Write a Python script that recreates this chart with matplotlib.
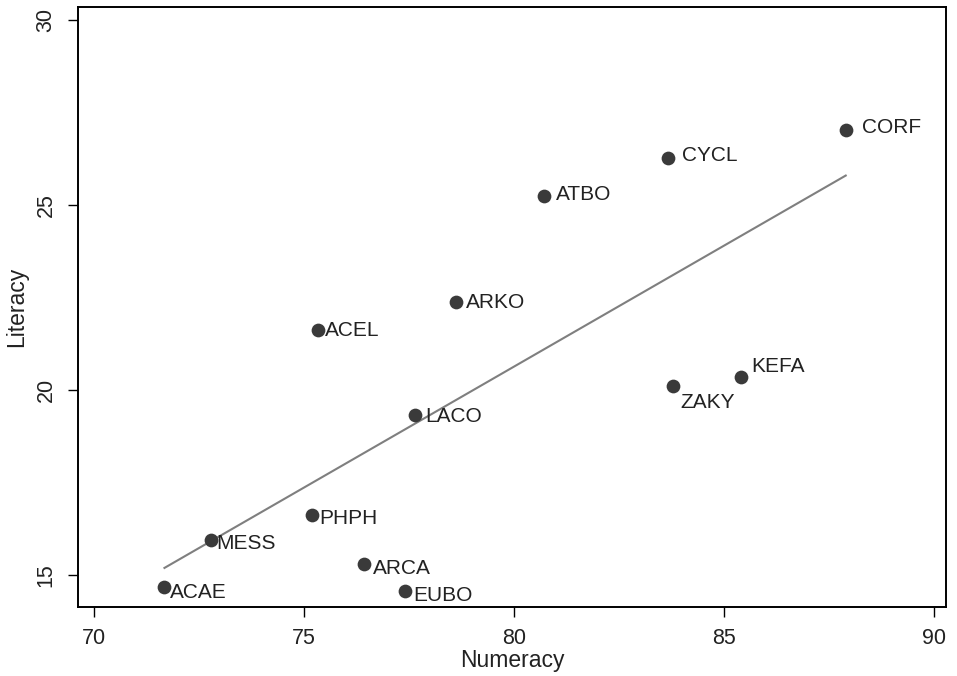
import matplotlib
matplotlib.use("Agg")
import matplotlib.pyplot as plt
import numpy as np

# Regions (labels) and their scores
regions = ["ACAE", "MESS", "PHPH", "ARCA", "EUBO", "LACO", "ACEL",
           "ARKO", "ATBO", "CYCL", "CORF", "ZAKY", "KEFA"]
numeracy = [71.67, 72.77, 75.19, 76.42, 77.41, 77.64, 75.32,
            78.61, 80.72, 83.67, 87.90, 83.79, 85.40]
literacy = [14.66, 15.95, 16.61, 15.29, 14.57, 19.33, 21.61,
            22.37, 25.24, 26.28, 27.03, 20.12, 20.35]

x_ticks = [70, 75, 80, 85, 90]
y_ticks = [15, 20, 25, 30]

# label offsets in pixels (dx, dy) from each point
label_offsets = {
    "ACAE": (5, -5), "MESS": (6, -4), "PHPH": (7, -3), "ARCA": (9, -4),
    "EUBO": (8, -5), "LACO": (10, -2), "ACEL": (7, 0), "ARKO": (10, 0),
    "ATBO": (12, 2), "CYCL": (14, 2), "CORF": (16, 2), "ZAKY": (7, -17),
    "KEFA": (10, 11),
}

plt.rcParams['font.family'] = ['Liberation Sans', 'DejaVu Sans']

fig = plt.figure(figsize=(9.57, 6.76), dpi=100)
ax = fig.add_axes([0.0815, 0.1025, 0.9075, 0.887])

x = np.array(numeracy)
y = np.array(literacy)

# OLS fit line across the data range
slope, intercept = np.polyfit(x, y, 1)
xs = np.array([x.min(), x.max()])
ax.plot(xs, intercept + slope * xs, color="#7f7f7f", lw=1.5, zorder=1)

ax.scatter(x, y, s=98, color="#3a3a3a", zorder=2, linewidths=0)

for name, xi, yi in zip(regions, numeracy, literacy):
    dx, dy = label_offsets[name]
    ax.annotate(name, (xi, yi), xytext=(dx, dy), textcoords='offset pixels',
                ha='left', va='center', fontsize=15, color="#222222")

ax.set_xlim(69.61, 90.30)
ax.set_ylim(14.14, 30.35)
ax.set_xticks(x_ticks)
ax.set_yticks(y_ticks)
ax.set_xticklabels([str(t) for t in x_ticks], fontsize=15.5, color="#222222")
ax.set_yticklabels([str(t) for t in y_ticks], fontsize=15.5, color="#222222",
                   rotation=90, va='center')
ax.tick_params(direction='out', length=7.5, width=1, pad=8)

ax.set_xlabel("Numeracy", fontsize=16.5, color="#222222", labelpad=0)
ax.set_ylabel("Literacy", fontsize=16.5, color="#222222", labelpad=5)

for sp in ax.spines.values():
    sp.set_linewidth(1.4)
    sp.set_color("black")

fig.savefig("out.png", dpi=100)
